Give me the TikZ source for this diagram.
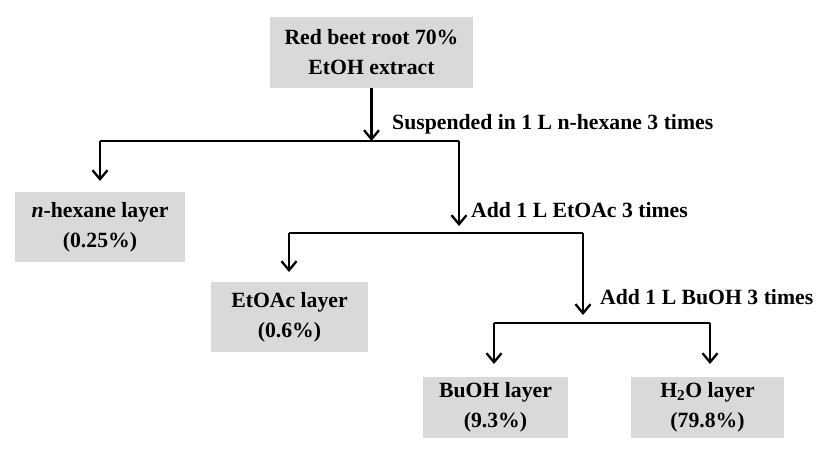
\documentclass[tikz,border=0pt]{standalone}
\usepackage{fontspec}
\setmainfont{Liberation Serif}
\usetikzlibrary{arrows.meta}
\definecolor{boxgray}{RGB}{217,217,217}
\begin{document}
\begin{tikzpicture}[x=1bp,y=-1bp,
  every node/.style={font=\fontsize{21.8}{30}\selectfont\bfseries},
  layerbox/.style={fill=boxgray, draw=none, align=center, inner sep=0pt},
  conn/.style={line width=2.3bp, draw=black},
  arr/.style={conn, -{Straight Barb[length=9bp,width=15bp,line width=2.3bp]}},
  steplabel/.style={anchor=base west, inner sep=0pt}]
\useasboundingbox (0,0) rectangle (827,457);
\fill[white] (0,0) rectangle (827,457);
% boxes
\node[layerbox, minimum width=203bp, minimum height=71bp] (top) at (371.5,52.5) {Red beet root 70\%\\EtOH extract};
\node[layerbox, minimum width=170bp, minimum height=70bp] (hex) at (100,227) {\textit{n}-hexane layer\\(0.25\%)};
\node[layerbox, minimum width=157bp, minimum height=70bp] (etoac) at (289.5,317) {EtOAc layer\\(0.6\%)};
\node[layerbox, minimum width=145bp, minimum height=61bp] (buoh) at (495.5,407.5) {BuOH layer\\(9.3\%)};
\node[layerbox, minimum width=153bp, minimum height=61bp] (water) at (707.5,407.5) {H\textsubscript{2}O layer\\(79.8\%)};
% junction coordinates
\coordinate (j1) at (371.5,141);
\coordinate (j1l) at (100,141);
\coordinate (j1r) at (459,141);
\coordinate (t1) at (100,181);
\coordinate (t2) at (459,226);
\coordinate (j2l) at (289,233);
\coordinate (j2r) at (583,233);
\coordinate (t3) at (289,272);
\coordinate (t4) at (583,315);
\coordinate (j3l) at (494,323);
\coordinate (j3r) at (710,323);
\coordinate (t5) at (494,364);
\coordinate (t6) at (710,364);
% connectors
\draw[arr] (top.south) -- (j1);
\draw[conn] (j1l) -- (j1r);
\draw[arr] (j1l) -- (t1);
\draw[arr] (j1r) -- (t2);
\draw[conn] (j2l) -- (j2r);
\draw[arr] (j2l) -- (t3);
\draw[arr] (j2r) -- (t4);
\draw[conn] (j3l) -- (j3r);
\draw[arr] (j3l) -- (t5);
\draw[arr] (j3r) -- (t6);
% labels
\node[steplabel] (l1) at (392,130) {Suspended in 1 L n-hexane 3 times};
\node[steplabel] (l2) at (471,218) {Add 1 L EtOAc 3 times};
\node[steplabel] (l3) at (600,305) {Add 1 L BuOH 3 times};
\end{tikzpicture}
\end{document}
